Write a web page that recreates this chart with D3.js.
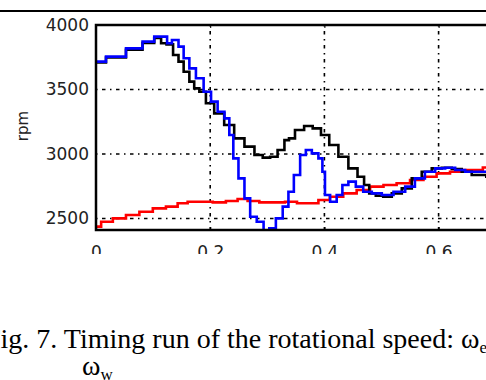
<!DOCTYPE html>
<head>
    <script type="text/javascript" src="https://d3js.org/d3.v7.min.js"></script>
    <style>
        body { margin: 0; background: #fff; }
        .axis text { font: 17px "DejaVu Sans", sans-serif; fill: #222; }
        .caption { font: 28px "Liberation Serif", "Times New Roman", serif; fill: #000; }
    </style>
</head>
<body>
<svg class="chart" width="486" height="380"></svg>

<script>
    // time (s) and speed (rpm)
    var tBlue = [0, .035, .07, .093, .111, .123, .126, .14, .149, .158, .169, .181, .196, .207, .219, .231, .236, .245, .254, .266, .274, .289, .298, .309, .321, .333, .341,
                 .352, .363, .372, .384, .395, .398, .404, .416, .427, .436, .448, .462, .474, .492, .509, .533, .55, .567, .585, .603, .62, .638, .655, .7];
    var vBlue = [3716, 3755, 3819, 3871, 3910, 3910, 3858, 3884, 3832, 3742, 3664, 3587, 3483, 3406, 3328, 3276, 3147, 2966, 2811, 2656, 2514, 2475, 2398, 2424, 2501, 2592, 2708,
                 2837, 2992, 3031, 3005, 2966, 2863, 2682, 2630, 2682, 2760, 2786, 2747, 2708, 2695, 2682, 2708, 2747, 2811, 2863, 2889, 2894, 2876, 2863, 2863];

    var tBlack = [0, .035, .07, .093, .111, .117, .13, .14, .149, .158, .169, .175, .187, .198, .216, .233, .251, .269, .286, .298, .312, .324, .336,
                  .34, .357, .372, .387, .401, .416, .433, .451, .465, .474, .483, .497, .509, .527, .544, .562, .579, .597, .614, .632, .649, .667, .7];
    var vBlack = [3710, 3748, 3808, 3860, 3900, 3858, 3850, 3767, 3716, 3638, 3561, 3509, 3483, 3393, 3315, 3225, 3121, 3057, 2992, 2972, 2979, 3031, 3108,
                  3121, 3186, 3217, 3199, 3147, 3070, 2979, 2889, 2824, 2760, 2695, 2677, 2669, 2695, 2734, 2811, 2863, 2889, 2894, 2884, 2863, 2837, 2824];

    var tRed = [0, .018, .041, .064, .088, .111, .134, .152, .169, .193, .216, .239, .257, .274, .298, .321, .341,
                .363, .381, .398, .421, .445, .468, .492, .515, .538, .562, .585, .608, .632, .655, .7];
    var vRed = [2437, 2475, 2501, 2527, 2553, 2579, 2592, 2618, 2630, 2630, 2625, 2636, 2651, 2636, 2625, 2625, 2630,
                2618, 2618, 2643, 2669, 2695, 2721, 2747, 2760, 2773, 2798, 2824, 2850, 2863, 2876, 2895];

    var xTicks = [0, 0.2, 0.4, 0.6];
    var xTickLabels = ["0", "0.2", "0.4", "0.6"];
    var yTicks = [2500, 3000, 3500, 4000];

    var svg = d3.select(".chart");

    var plotLeft = 96, plotTop = 25, plotBottom = 230;

    var x = d3.scaleLinear()
        .domain([0, 0.7])
        .range([plotLeft, plotLeft + 571 * 0.7]);

    var y = d3.scaleLinear()
        .domain([2411, 4000])
        .range([plotBottom, plotTop]);

    // rule from the page above the figure
    svg.append("line")
        .attr("x1", 0).attr("x2", 486)
        .attr("y1", 11).attr("y2", 11)
        .attr("stroke", "#000")
        .attr("stroke-width", 2);

    svg.append("clipPath").attr("id", "plot")
        .append("rect")
        .attr("x", plotLeft).attr("y", plotTop)
        .attr("width", x(0.7) - plotLeft).attr("height", plotBottom - plotTop);

    // dash-dot grid
    var grid = svg.append("g")
        .attr("stroke", "#000")
        .attr("stroke-width", 1.6)
        .attr("stroke-dasharray", "1.5,4.5,3.5,4.5");

    grid.selectAll(".gx")
        .data(xTicks.slice(1))
        .enter().append("line")
        .attr("x1", function(d) { return x(d); })
        .attr("x2", function(d) { return x(d); })
        .attr("y1", plotTop)
        .attr("y2", plotBottom);

    grid.selectAll(".gy")
        .data(yTicks.slice(0, 3))
        .enter().append("line")
        .attr("x1", plotLeft)
        .attr("x2", x(0.7))
        .attr("y1", function(d) { return y(d); })
        .attr("y2", function(d) { return y(d); });

    var line = d3.line()
        .x(function(d) { return x(d[0]); })
        .y(function(d) { return y(d[1]); })
        .curve(d3.curveStep);

    var series = [
        { t: tRed, v: vRed, color: "#ff0000" },
        { t: tBlack, v: vBlack, color: "#000000" },
        { t: tBlue, v: vBlue, color: "#0000ff" }
    ];

    svg.append("g")
        .attr("clip-path", "url(#plot)")
        .selectAll("path")
        .data(series)
        .enter().append("path")
        .attr("fill", "none")
        .attr("stroke", function(d) { return d.color; })
        .attr("stroke-width", 2.6)
        .attr("d", function(d) { return line(d3.zip(d.t, d.v)); });

    // frame
    svg.append("path")
        .attr("fill", "none")
        .attr("stroke", "#000")
        .attr("stroke-width", 2.5)
        .attr("d", "M" + x(0.7) + "," + plotTop + "H" + plotLeft + "V" + plotBottom + "H" + x(0.7));

    // axes
    var yAxis = svg.append("g")
        .attr("class", "axis")
        .attr("transform", "translate(" + plotLeft + ",0)")
        .call(d3.axisLeft(y).tickValues(yTicks).tickSize(0).tickPadding(7).tickFormat(d3.format("d")));
    yAxis.select(".domain").remove();

    var xAxis = svg.append("g")
        .attr("class", "axis")
        .attr("transform", "translate(0," + plotBottom + ")")
        .call(d3.axisBottom(x).tickValues(xTicks).tickSize(-3).tickPadding(0)
            .tickFormat(function(d, i) { return xTickLabels[i]; }));
    xAxis.select(".domain").remove();
    xAxis.selectAll("line").attr("stroke", "#000").attr("stroke-width", 1.2);
    xAxis.selectAll("text").attr("y", 28).attr("dy", null);

    svg.append("g")
        .attr("transform", "translate(0," + plotTop + ")")
        .call(d3.axisTop(x).tickValues(xTicks.slice(1)).tickSize(-3).tickFormat(""))
        .call(function(g) { g.select(".domain").remove(); });

    // the scan is cut off just under the tick labels
    svg.append("rect")
        .attr("x", 0).attr("y", 254)
        .attr("width", 486).attr("height", 40)
        .attr("fill", "#fff");

    svg.append("text")
        .attr("transform", "translate(28,126) rotate(-90)")
        .attr("text-anchor", "middle")
        .style("font", "15px 'DejaVu Sans', sans-serif")
        .style("fill", "#222")
        .text("rpm");

    // caption
    var cap = svg.append("text")
        .attr("class", "caption")
        .attr("x", -15)
        .attr("y", 348);
    cap.append("tspan").text("Fig. 7. Timing run of the rotational speed: ω");
    cap.append("tspan").attr("dy", 5).style("font-size", "17px").text("e");
    cap.append("tspan").attr("dy", -5).text(",");

    var cap2 = svg.append("text")
        .attr("class", "caption")
        .attr("x", 82)
        .attr("y", 375);
    cap2.append("tspan").text("ω");
    cap2.append("tspan").attr("dy", 5).style("font-size", "17px").text("w");
</script>
</body>
